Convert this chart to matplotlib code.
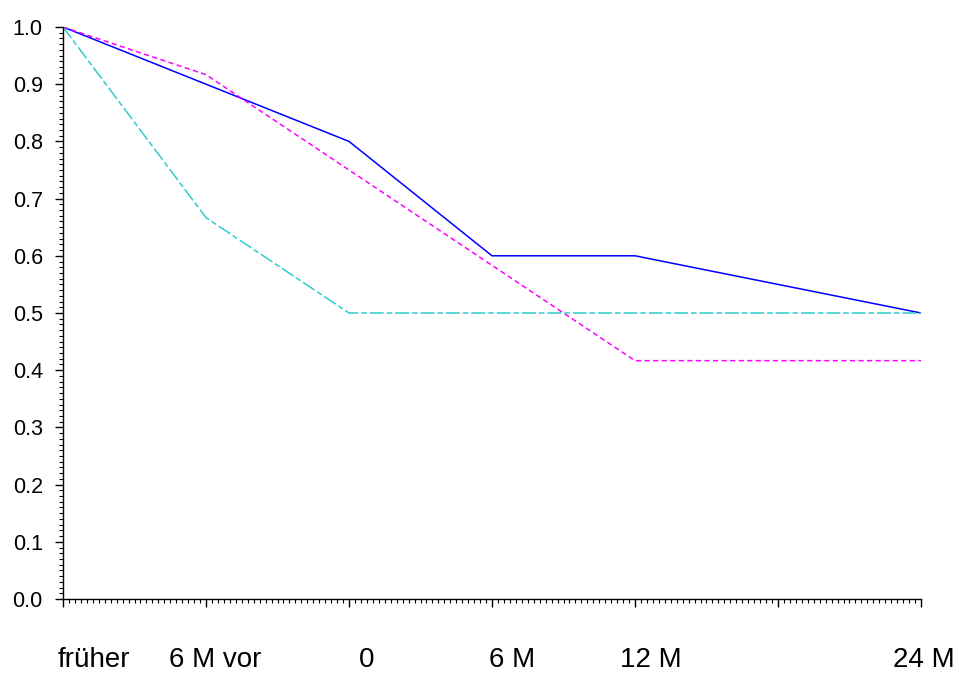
import matplotlib
matplotlib.use('Agg')
import matplotlib.pyplot as plt
from matplotlib.ticker import MultipleLocator
from matplotlib.transforms import blended_transform_factory

plt.rcParams['font.family'] = ['Liberation Sans', 'DejaVu Sans']

# x positions of the time points (one unit = 6 months)
x_pos = [0, 1, 2, 3, 4, 6]
x_labels = ['früher', '6 M vor', '0', '6 M', '12 M', '24 M']
# where the labels sit (slightly shifted right of the ticks in the original)
label_pos = [0.213, 1.063, 2.126, 3.14, 4.11, 6.02]

blue_vals = [1.0, 0.9, 0.8, 0.6, 0.6, 0.5]
magenta_vals = [1.0, 11 / 12, 0.75, 7 / 12, 5 / 12, 5 / 12]
cyan_vals = [1.0, 2 / 3, 0.5, 0.5, 0.5, 0.5]

fig = plt.figure(figsize=(9.59, 6.73), dpi=100)
ax = fig.add_axes([63 / 959, 1 - 599 / 673, (921 - 63) / 959, (599 - 27) / 673])

ax.plot(x_pos, blue_vals, color='#0000ff', lw=1.1, solid_joinstyle='miter')
ax.plot(x_pos, magenta_vals, color='#ff00ff', lw=1.1,
        linestyle=(0, (3.4, 2.2)))
ax.plot(x_pos, cyan_vals, color='#30cccc', lw=1.1,
        linestyle=(0, (9.0, 2.0, 3.6, 2.0)))

ax.set_xlim(0, 6)
ax.set_ylim(0, 1.0)

for s in ['top', 'right']:
    ax.spines[s].set_visible(False)
for s in ['left', 'bottom']:
    ax.spines[s].set_linewidth(1.0)

ax.xaxis.set_major_locator(MultipleLocator(1))
ax.xaxis.set_minor_locator(MultipleLocator(1 / 24))
ax.yaxis.set_major_locator(MultipleLocator(0.1))
ax.yaxis.set_minor_locator(MultipleLocator(0.01))
ax.set_xticklabels([])
ax.set_yticklabels(['%.1f' % v for v in ax.get_yticks()])

ax.tick_params(axis='both', which='major', direction='out', length=5.5, width=1.0,
               labelsize=15.5, colors='black')
ax.tick_params(axis='both', which='minor', direction='out', length=2.9, width=0.8)
ax.tick_params(axis='y', which='major', pad=9)

trans = blended_transform_factory(ax.transData, ax.transAxes)
for p, lab in zip(label_pos, x_labels):
    ax.text(p, -0.119, lab, transform=trans, ha='center', va='baseline', fontsize=20)

fig.savefig('out.png', dpi=100)
